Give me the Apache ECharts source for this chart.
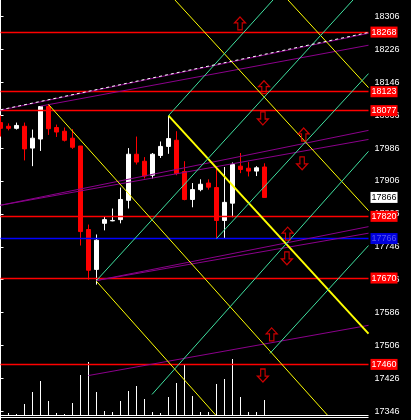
<!DOCTYPE html>
<html><head><meta charset="utf-8">
<script src="https://cdn.jsdelivr.net/npm/echarts@6/dist/echarts.min.js"></script>
<style>html,body{margin:0;padding:0;background:#000;}#c{width:411px;height:420px;}</style>
</head><body><div id="c"></div>
<script>
// ---- data ----
const opens  = [18048,18039,18034,18039,17986,18008,18087,18036,18027,18010,17991,17788,17691,17803,17809,17812,17859,17971,17954,17920,17968,17990,18005,17929,17861,17885,17901,17890,17810,17852,17942,17937,17930,17940];
const closes = [18034,18034,18041,17984,18010,18087,18033,18025,18005,17988,17783,17689,17762,17812,17810,17861,17971,17952,17918,17971,17990,18009,17924,17861,17885,17898,17891,17810,17854,17946,17934,17930,17938,17866];
const lows   = [18014,18029,18031,17956,17942,17979,18018,18013,18002,17984,17749,17666,17654,17786,17808,17803,17839,17946,17912,17912,17962,17972,17920,17859,17842,17881,17885,17766,17766,17818,17925,17917,17918,17866];
const highs  = [18065,18046,18048,18048,18031,18088,18092,18043,18036,18032,17991,17800,17776,17820,17839,17890,17986,18014,17964,17974,18002,18065,18027,17954,17901,17910,17910,17941,17940,17951,17974,17952,17942,17949];
const volumes = [15,2,1,11,23,34,14,2,1,12,40,53,23,4,3,14,24,29,16,3,2,18,32,51,19,3,3,31,36,56,18,3,3,15];
const slotCount = 47;               // bar slots across the plot (incl. empty future slots)
const tickStart = 17346, tickStep = 80;
const redLevels = [18268, 18123, 18077, 17820, 17670, 17460];
const blueLevel = 17766;
const lastPrice = 17866;
// trend lines: [x1, price1, x2, price2] (x in bar-slot units)
const yellowLines = [[6,18092,40.9,17336],[12,17662,26.94,17336],[21.81,18346,46,17834],[35.94,18346,46,18133]];
const yellowBold  = [[21,18065,46,17535]];
const greenLines  = [[12,17664,44.06,18346],[21,18065,34.06,18346],[27,17766,46,18167],[18.94,17387,46,17978],[33.69,17487,46,17749]];
const purpleLines = [[0,18078,46,18265],[5,18088,46,18236],[0,17847,46,18029],[0,17847,46,18007],[12,17664,46,17795],[12,17664,46,17779],[11,17433,46,17555]];
const dashedLines = [[0,18079,46,18267]];
const upArrows   = [[29.94,18289],[32.94,18134],[37.9,18019],[35.9,17778],[33.9,17533]];
const downArrows = [[32.8,18058],[37.7,17949],[35.8,17718],[32.8,17433]];

// ---- chart ----
const cats = Array.from({length: slotCount}, (_, i) => String(i));
const candleData = opens.map((o, i) => [o, closes[i], lows[i], highs[i]]);
const plotLeft = 0.5, plotWidth = 368;
const yMin = tickStart - tickStep, yMax = 18346;
const pxPerUnit = 1 / 2.4313;
const plotHeight = (yMax - yMin) * pxPerUnit;

function lineSeries(list, color, width, dash, z) {
  return list.map(l => ({
    type: 'line', xAxisIndex: 1, yAxisIndex: 0, data: [[l[0], l[1]], [l[2], l[3]]],
    showSymbol: false, symbol: 'none', silent: true, z: z || 4,
    lineStyle: {color: color, width: width, type: dash || 'solid'}
  }));
}
const arrowPath = 'path://M5,0 L10,5.5 L7,5.5 L7,12 L3,12 L3,5.5 L0,5.5 Z';
const lvlLabel = (bg, fg) => ({show: true, position: 'end', distance: 2, formatter: '{c}', backgroundColor: bg, color: fg,
  fontFamily: 'Liberation Sans', fontSize: 9, padding: [1, 1, 1, 1], lineHeight: 9});

const chart = echarts.init(document.getElementById('c'), null, {renderer: 'canvas'});
chart.setOption({
  backgroundColor: '#000',
  animation: false,
  grid: [
    {left: plotLeft, top: 0, width: plotWidth, height: plotHeight, outerBoundsMode: 'none', containLabel: false},
    {left: plotLeft, top: 357, width: plotWidth, height: 60, outerBoundsMode: 'none', containLabel: false}
  ],
  xAxis: [
    {type: 'category', gridIndex: 0, data: cats, boundaryGap: false, show: false},
    {type: 'value', gridIndex: 0, min: 0, max: slotCount - 1, show: false},
    {type: 'category', gridIndex: 1, data: cats, boundaryGap: false, show: false}
  ],
  yAxis: [
    {type: 'value', gridIndex: 0, position: 'right', min: yMin, max: yMax, interval: tickStep, scale: true,
      splitLine: {show: false},
      axisLine: {show: true, lineStyle: {color: '#fff', width: 1}},
      axisTick: {show: true, length: 3, lineStyle: {color: '#fff'}},
      axisLabel: {color: '#fff', fontFamily: 'Liberation Sans', fontSize: 9, margin: 6, showMaxLabel: false,
        formatter: v => (v >= tickStart && (v - tickStart) % tickStep === 0) ? String(v) : ''}},
    {type: 'value', gridIndex: 1, min: -2, max: 58, show: false}
  ],
  series: [
    {type: 'candlestick', xAxisIndex: 0, yAxisIndex: 0, data: candleData, barWidth: 5, z: 2,
      itemStyle: {color: '#ffffff', color0: '#ff0000', borderColor: '#ffffff', borderColor0: '#ff0000', borderWidth: 1},
      markLine: {silent: true, symbol: 'none', precision: 0, z: 3,
        data: [
          ...redLevels.map(v => ({yAxis: v, lineStyle: {color: '#ff0000', width: 1.3, type: 'solid'}, label: lvlLabel('#ff0000', '#ffffff')})),
          {yAxis: blueLevel, lineStyle: {color: '#0000ff', width: 1.3, type: 'solid'}, label: lvlLabel('#0000dd', '#5555ee')},
          {yAxis: lastPrice, lineStyle: {color: 'rgba(0,0,0,0)', width: 1, type: 'solid'}, label: lvlLabel('#ffffff', '#000000')}
        ]}},
    ...lineSeries(purpleLines, '#8b008b', 1),
    ...lineSeries(dashedLines, '#ffffff', 1, [3, 3], 5),
    ...lineSeries(yellowLines, '#ffff00', 1),
    ...lineSeries(yellowBold, '#ffff00', 2),
    ...lineSeries(greenLines, '#3fe0a0', 1),
    {type: 'scatter', xAxisIndex: 1, yAxisIndex: 0, data: upArrows, symbol: arrowPath, symbolSize: [11, 13], z: 6, silent: true,
      itemStyle: {color: 'rgba(0,0,0,0)', borderColor: '#ff0000', borderWidth: 1.2}},
    {type: 'scatter', xAxisIndex: 1, yAxisIndex: 0, data: downArrows, symbol: arrowPath, symbolRotate: 180, symbolSize: [11, 13], z: 6, silent: true,
      itemStyle: {color: 'rgba(0,0,0,0)', borderColor: '#ff0000', borderWidth: 1.2}},
    {type: 'bar', xAxisIndex: 2, yAxisIndex: 1, data: volumes, barWidth: 1, itemStyle: {color: '#ffffff'}, silent: true,
      markLine: {silent: true, symbol: 'none', label: {show: false},
        data: [{yAxis: 0, lineStyle: {color: '#fff', width: 1, type: 'solid'}}, {yAxis: -2, lineStyle: {color: '#fff', width: 1, type: 'solid'}}]}}
  ]
});
</script></body></html>
